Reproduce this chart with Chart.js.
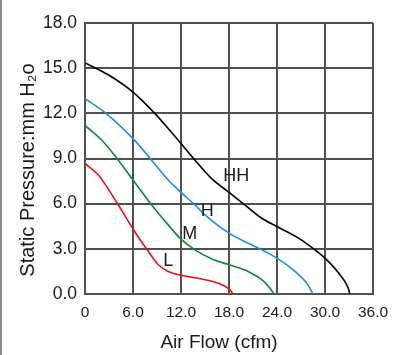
<!DOCTYPE html>
<html>
<head>
<meta charset="utf-8">
<script src="https://cdn.jsdelivr.net/npm/chart.js@4/dist/chart.umd.min.js"></script>
<style>
html,body{margin:0;padding:0;background:#fff;}
#wrap{position:relative;width:400px;height:355px;}
#edge{position:absolute;left:0;top:0;width:2px;height:355px;background:#8a8a8a;}
canvas{display:block;}
</style>
</head>
<body>
<div id="wrap"><canvas id="c" width="400" height="355"></canvas><div id="edge"></div></div>
<script>
// ---- data ----
const xTickLabels = ['0','6.0','12.0','18.0','24.0','30.0','36.0'];
const yTickLabels = ['0.0','3.0','6.0','9.0','12.0','15.0','18.0'];

const hhFlow = [0, 2.9, 6.0, 8.75, 10.4, 12.1, 13.75, 15.8, 18.0, 20.0, 22.1, 24.0, 26.7, 28.75, 30.0, 31.7, 32.9, 33.1];
const hhPres = [15.35, 14.56, 13.41, 11.98, 10.99, 9.93, 8.89, 7.68, 6.75, 5.91, 5.03, 4.48, 3.71, 2.93, 2.38, 1.39, 0.4, 0];

const hFlow = [0, 2.5, 6.0, 8.33, 10.4, 12.0, 13.75, 15.0, 18.0, 21.7, 24.0, 26.25, 27.7, 28.5];
const hPres = [12.97, 12.05, 10.32, 8.89, 7.57, 6.75, 5.91, 5.25, 4.04, 3.04, 2.38, 1.5, 0.73, 0];

const mFlow = [0, 2.1, 4.17, 6.0, 8.33, 10.4, 12.0, 13.75, 15.8, 18.0, 20.4, 22.1, 23.1, 23.6];
const mPres = [11.2, 10.21, 8.89, 7.57, 5.91, 4.59, 3.64, 2.93, 2.34, 1.94, 1.5, 0.95, 0.4, 0];

const lFlow = [0, 1.67, 4.17, 6.0, 7.92, 9.17, 10.4, 12.0, 15.0, 17.1, 18.1, 18.5];
const lPres = [8.67, 7.9, 5.91, 4.32, 2.82, 1.94, 1.5, 1.24, 0.95, 0.62, 0.29, 0];

const curveNames = ['HH', 'H', 'M', 'L'];
const curveLabelFlow = [18.9, 15.27, 13.1, 10.4];
const curveLabelPres = [7.9, 5.58, 4.07, 2.26];

const xTitle = 'Air Flow (cfm)';
const yTitle = 'Static Pressure:mm H\u2082o';

// ---- build ----
const pts = (xs, ys) => xs.map((x, i) => ({x: x, y: ys[i]}));
const colors = ['#000000', '#1a8fe3', '#0b8a34', '#e3141b'];
const series = [[hhFlow, hhPres], [hFlow, hPres], [mFlow, mPres], [lFlow, lPres]];

const FONT = '"Liberation Sans", Arial, Helvetica, sans-serif';

const overlay = {
  id: 'overlay',
  afterDraw(chart) {
    const ctx = chart.ctx;
    const xs = chart.scales.x, ys = chart.scales.y;
    ctx.save();
    ctx.fillStyle = '#1a1a1a';
    // curve labels
    ctx.font = '18px ' + FONT;
    ctx.textAlign = 'center';
    ctx.textBaseline = 'middle';
    curveNames.forEach((n, i) => {
      ctx.fillText(n, xs.getPixelForValue(curveLabelFlow[i]), ys.getPixelForValue(curveLabelPres[i]) + 1);
    });
    // x title
    ctx.font = '19px ' + FONT;
    ctx.textBaseline = 'alphabetic';
    ctx.fillText(xTitle, 219, 348);
    // y title
    ctx.translate(28, 170);
    ctx.rotate(-Math.PI / 2);
    ctx.font = '20px ' + FONT;
    ctx.textBaseline = 'middle';
    ctx.fillText(yTitle, 0, 0);
    ctx.restore();
  }
};

new Chart(document.getElementById('c'), {
  type: 'scatter',
  data: {
    datasets: series.map((s, i) => ({
      label: curveNames[i],
      data: pts(s[0], s[1]),
      showLine: true,
      borderColor: colors[i],
      backgroundColor: colors[i],
      borderWidth: 1.6,
      pointRadius: 0,
      cubicInterpolationMode: 'monotone',
      fill: false
    }))
  },
  options: {
    responsive: false,
    animation: false,
    devicePixelRatio: 1,
    layout: {padding: {left: 0, top: 23, right: 27, bottom: 0}},
    plugins: {legend: {display: false}, tooltip: {enabled: false}},
    scales: {
      x: {
        type: 'linear', min: 0, max: 36,
        afterFit(s) { s.height = 61; },
        ticks: {
          stepSize: 6, padding: 9, color: '#1a1a1a',
          font: {family: FONT, size: 15.5},
          callback: (v, i) => xTickLabels[i]
        },
        grid: {color: '#505050', lineWidth: 2, drawTicks: false},
        border: {color: '#505050', width: 2}
      },
      y: {
        type: 'linear', min: 0, max: 18,
        afterFit(s) { s.width = 85; },
        ticks: {
          stepSize: 3, padding: 8, color: '#1a1a1a',
          font: {family: FONT, size: 17.5},
          callback: (v, i) => yTickLabels[i]
        },
        grid: {color: '#505050', lineWidth: 2, drawTicks: false},
        border: {color: '#505050', width: 2}
      }
    }
  },
  plugins: [overlay]
});
</script>
</body>
</html>
